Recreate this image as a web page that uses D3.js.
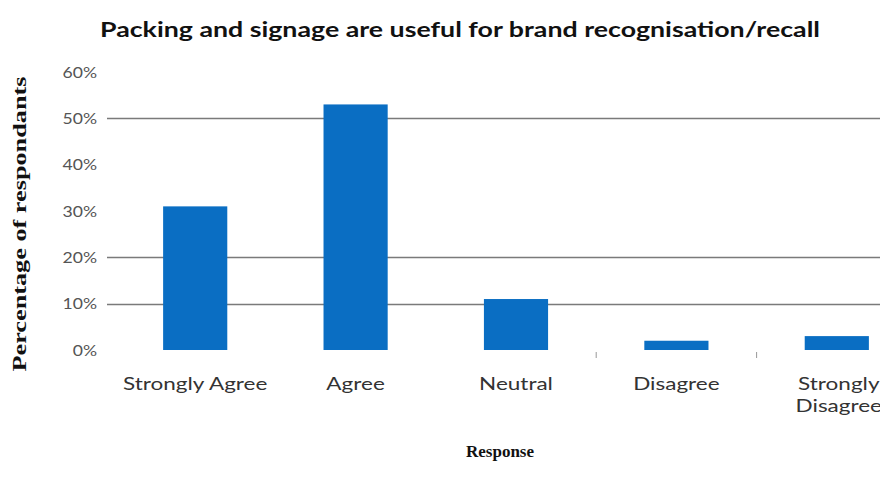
<!DOCTYPE html>
<html><head><meta charset="utf-8">
<script src="https://cdn.jsdelivr.net/npm/d3@7"></script>
<style>body{margin:0;background:#fff;}svg{display:block;}</style>
</head><body>
<svg id="c" width="880" height="485"></svg>
<script>
const categories = ["Strongly Agree", "Agree", "Neutral", "Disagree", "Strongly Disagree"];
const values = [0.31, 0.53, 0.11, 0.02, 0.03];
const yTicks = [0, 0.1, 0.2, 0.3, 0.4, 0.5, 0.6];
const gridTicks = [0.1, 0.2, 0.5];
const title = "Packing and signage are useful for brand recognisation/recall";
const yTitle = "Percentage of respondants";
const xTitle = "Response";

const svg = d3.select("#c");
const x = d3.scaleBand().domain(categories).range([115, 917]).paddingInner(0.6).paddingOuter(0.3);
const y = d3.scaleLinear().domain([0, 0.6]).range([350, 72]);
const sans = "Lato, 'Open Sans', sans-serif";
const serif = "'Liberation Serif', 'DejaVu Serif', serif";

function stretch(sel, f) {
  sel.each(function() {
    const n = this;
    const w = n.getComputedTextLength();
    d3.select(n).attr("textLength", w * f).attr("lengthAdjust", "spacingAndGlyphs");
  });
}

// gridlines
svg.append("g").selectAll("line").data(gridTicks).join("line")
  .attr("x1", 107).attr("x2", 880)
  .attr("y1", d => Math.round(y(d)) + 0.5).attr("y2", d => Math.round(y(d)) + 0.5)
  .attr("stroke", "#7a7a7a").attr("stroke-width", 1.3);

// bars
svg.append("g").selectAll("rect").data(values).join("rect")
  .attr("x", (d, i) => x(categories[i]))
  .attr("width", x.bandwidth())
  .attr("y", d => y(d))
  .attr("height", d => y(0) - y(d))
  .attr("fill", "#0a6ec3");

// small ticks between categories
const between = [categories[2], categories[3]].map(c => x(c) + x.bandwidth() + (x.step() - x.bandwidth()) / 2);
svg.append("g").selectAll("line").data(between).join("line")
  .attr("x1", d => d).attr("x2", d => d).attr("y1", 352).attr("y2", 358)
  .attr("stroke", "#999").attr("stroke-width", 1);

// y tick labels
const yl = svg.append("g").selectAll("text").data(yTicks).join("text")
  .attr("x", 97).attr("y", d => y(d)).attr("dy", "0.35em")
  .attr("text-anchor", "end")
  .style("font-family", sans).style("font-size", "16px").attr("fill", "#555")
  .text(d => d3.format(".0%")(d));
stretch(yl, 1.1);

// x category labels
const xl = svg.append("g").selectAll("text").data(categories).join("text")
  .attr("x", d => x(d) + x.bandwidth() / 2).attr("y", 390)
  .attr("text-anchor", "middle")
  .style("font-family", sans).style("font-size", "18px").attr("fill", "#333");
xl.each(function(d) {
  const t = d3.select(this);
  if (d === "Strongly Disagree") {
    t.append("tspan").attr("x", x(d) + x.bandwidth() / 2 + 2).text("Strongly");
    t.append("tspan").attr("x", x(d) + x.bandwidth() / 2 + 2).attr("dy", 22).text("Disagree");
  } else t.text(d);
});
xl.filter(d => d !== "Strongly Disagree").call(stretch, 1.25);
xl.selectAll("tspan").each(function() {
  const w = this.getComputedTextLength();
  d3.select(this).attr("textLength", w * 1.25).attr("lengthAdjust", "spacingAndGlyphs");
});

// title
const tt = svg.append("text").attr("x", 460).attr("y", 37).attr("text-anchor", "middle")
  .style("font-family", sans).style("font-size", "20px").style("font-weight", "bold").attr("fill", "#111")
  .text(title);
tt.attr("textLength", 720).attr("lengthAdjust", "spacingAndGlyphs");

// y axis title
svg.append("text").attr("transform", "translate(26,224) rotate(-90)").attr("text-anchor", "middle")
  .style("font-family", serif).style("font-size", "18px").style("font-weight", "bold").attr("fill", "#111")
  .attr("textLength", 295).attr("lengthAdjust", "spacingAndGlyphs")
  .text(yTitle);

// x axis title
svg.append("text").attr("x", 500).attr("y", 457).attr("text-anchor", "middle")
  .style("font-family", serif).style("font-size", "17px").style("font-weight", "bold").attr("fill", "#111")
  .text(xTitle);
</script>
</body></html>
